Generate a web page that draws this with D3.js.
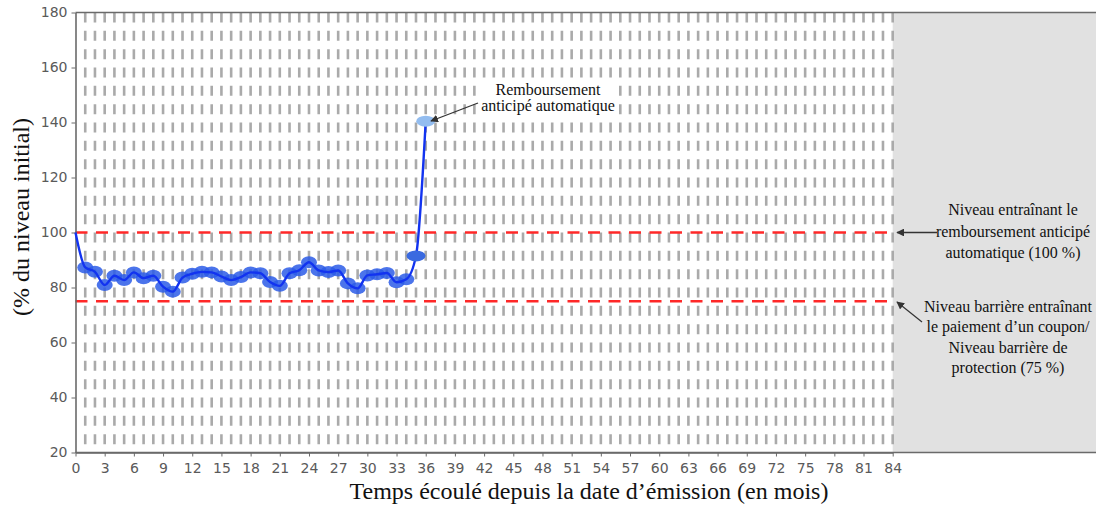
<!DOCTYPE html>
<html>
<head>
<meta charset="utf-8">
<script src="https://cdn.jsdelivr.net/npm/d3@7"></script>
<style>
 body { margin: 0; background: #fff; }
 svg { display: block; }
</style>
</head>
<body>
<script>
// Autocall chart: underlying level as % of initial level, by month since issue

// months observed and level (% of initial)
const months = [0, 1, 2, 3, 4, 5, 6, 7, 8, 9, 10, 11, 12, 13, 14, 15, 16, 17, 18,
 19, 20, 21, 22, 23, 24, 25, 26, 27, 28, 29, 30, 31, 32, 33, 34, 35, 36];
const levels = [100, 87.3, 85.7, 80.9, 84.3, 82.7, 85.5, 83.4, 84.3, 80.3, 78.5, 83.6, 85, 85.7, 85.5, 84, 82.7, 83.8, 85.5,
 85.2, 82, 80.6, 85.2, 86.3, 89.2, 86.2, 85.6, 86.2, 81.5, 79.7, 84.4, 84.8, 85.3, 81.9, 83, 91.5, 140.5];

// barrier levels
const autocallLevel = 100;
const barrierLevel = 75;

const xTicks = d3.range(0, 85, 3);
const yTicks = [20, 40, 60, 80, 100, 120, 140, 160, 180];

const W = 1099, H = 505;
const svg = d3.select("body").append("svg")
 .attr("width", W)
 .attr("height", H);

const x = d3.scaleLinear().domain([0, 84]).range([75.5, 892.7]);
const y = d3.scaleLinear().domain([20, 180]).range([452.5, 12.5]);
const rightEdge = 1096;
const serif = "'Liberation Serif', 'Times New Roman', serif";

// gray panel after maturity
svg.append("rect")
 .attr("x", x(84))
 .attr("y", y(180))
 .attr("width", rightEdge - x(84))
 .attr("height", y(20) - y(180))
 .attr("fill", "#e1e1e1");

// vertical dashed grid, one per month
const period = (y(20) - y(180)) / 24;
svg.append("g").selectAll("line")
 .data(d3.range(1, 85))
 .join("line")
 .attr("x1", d => x(d)).attr("x2", d => x(d))
 .attr("y1", y(180)).attr("y2", y(20) - 4)
 .attr("stroke", "#aaaaaa")
 .attr("stroke-width", 2.6)
 .attr("stroke-dasharray", "10," + (period - 10));

// red level lines
svg.append("g").selectAll("line")
 .data([autocallLevel, barrierLevel])
 .join("line")
 .attr("x1", x(0)).attr("x2", x(84))
 .attr("y1", d => y(d)).attr("y2", d => y(d))
 .attr("stroke", "#ff2828")
 .attr("stroke-width", 2.5)
 .attr("stroke-dasharray", "12,8.5");

// axes
const axisColor = "#6a6a6a";
const yAxis = svg.append("g")
 .attr("transform", "translate(" + x(0) + ",0)")
 .call(d3.axisLeft(y).tickValues(yTicks).tickSize(4).tickSizeOuter(0));
const xAxis = svg.append("g")
 .attr("transform", "translate(0," + y(20) + ")")
 .call(d3.axisBottom(x).tickValues(xTicks).tickSize(4).tickSizeOuter(0));

[xAxis, yAxis].forEach(g => {
 g.select(".domain").attr("stroke", axisColor).attr("stroke-width", 1.6);
 g.selectAll(".tick line").attr("stroke", axisColor);
 g.selectAll(".tick text")
  .attr("fill", "#5a5a5a")
  .style("font-family", "'DejaVu Sans', sans-serif")
  .style("font-size", "14px");
});
xAxis.selectAll(".tick text").attr("dy", "0.95em");
yAxis.selectAll(".tick text").attr("dx", "-1px");

// axis line extended under gray panel, and top frame line
svg.append("line")
 .attr("x1", x(0)).attr("x2", rightEdge)
 .attr("y1", y(20)).attr("y2", y(20))
 .attr("stroke", axisColor).attr("stroke-width", 1.6);
svg.append("line")
 .attr("x1", x(0)).attr("x2", rightEdge)
 .attr("y1", y(180)).attr("y2", y(180))
 .attr("stroke", axisColor).attr("stroke-width", 1.4);

// level series
const pts = months.map((m, i) => ({ m: m, v: levels[i] }));
const line = d3.line()
 .x(d => x(d.m))
 .y(d => y(d.v))
 .curve(d3.curveMonotoneX);

svg.append("g").selectAll("ellipse")
 .data(pts.slice(1, 35))
 .join("ellipse")
 .attr("cx", d => x(d.m))
 .attr("cy", d => y(d.v))
 .attr("rx", 8)
 .attr("ry", 6)
 .attr("fill", "#2b5ce8")
 .attr("opacity", 0.85);

svg.append("path")
 .datum(pts)
 .attr("d", line)
 .attr("fill", "none")
 .attr("stroke", "#1233f0")
 .attr("stroke-width", 2.4);

svg.append("ellipse")
 .attr("cx", x(35)).attr("cy", y(levels[35]))
 .attr("rx", 9.5).attr("ry", 5.5)
 .attr("fill", "#3a6ae0");
svg.append("ellipse")
 .attr("cx", x(36)).attr("cy", y(levels[36]))
 .attr("rx", 9.5).attr("ry", 5.5)
 .attr("fill", "#93bdf0");

// arrow marker
svg.append("defs").append("marker")
 .attr("id", "arrow")
 .attr("viewBox", "0 0 10 10")
 .attr("refX", 9).attr("refY", 5)
 .attr("markerWidth", 6).attr("markerHeight", 6)
 .attr("orient", "auto")
 .append("path")
 .attr("d", "M0,0L10,5L0,10z")
 .attr("fill", "#333");

function note(lines, cx, y0, step) {
 const t = svg.append("text")
  .attr("text-anchor", "middle")
  .style("font-family", serif)
  .style("font-size", "16px")
  .attr("fill", "#111");
 lines.forEach((s, i) => {
  t.append("tspan").attr("x", cx).attr("y", y0 + i * step).text(s);
 });
}
function arrow(x1, y1, x2, y2) {
 svg.append("line")
  .attr("x1", x1).attr("y1", y1).attr("x2", x2).attr("y2", y2)
  .attr("stroke", "#333").attr("stroke-width", 1.3)
  .attr("marker-end", "url(#arrow)");
}

// white box behind the top note
svg.append("rect")
 .attr("x", 478).attr("y", 79)
 .attr("width", 140).attr("height", 38)
 .attr("fill", "#fff");
note(["Remboursement", "anticipé automatique"], 548, 95, 15.5);
arrow(478, 103, 431, 121);

note(["Niveau entraînant  le", "remboursement anticipé", "automatique (100 %)"], 1013, 215, 21.5);
arrow(937, y(100), 897, y(100));

note(["Niveau barrière entraînant", "le paiement d\u2019un coupon/", "Niveau barrière de", "protection (75 %)"], 1008, 312, 20.4);
arrow(922, 322, 897, 302);

// axis titles
svg.append("text")
 .attr("x", 589)
 .attr("y", 499)
 .attr("text-anchor", "middle")
 .style("font-family", serif)
 .style("font-size", "24px")
 .attr("fill", "#111")
 .text("Temps écoulé depuis la date d\u2019émission (en mois)");

svg.append("text")
 .attr("transform", "translate(29,217) rotate(-90)")
 .attr("text-anchor", "middle")
 .style("font-family", serif)
 .style("font-size", "24px")
 .attr("fill", "#111")
 .text("(% du niveau initial)");
</script>
</body>
</html>
